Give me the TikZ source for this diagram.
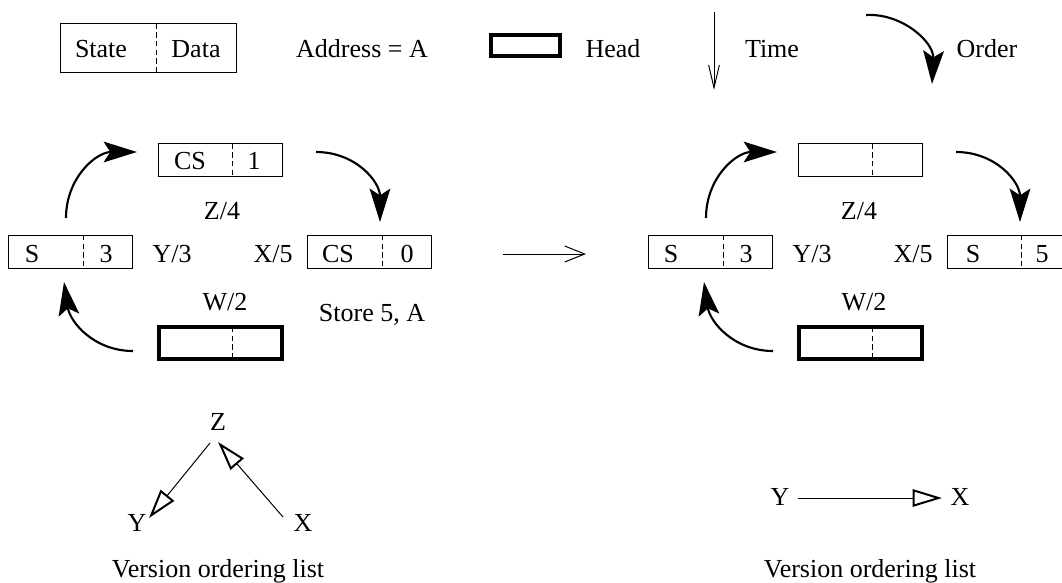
\documentclass[tikz,border=0pt]{standalone}
\usepackage{fontspec}
\setmainfont{Liberation Serif}
\usetikzlibrary{arrows.meta}
\begin{document}
\begin{tikzpicture}[x=0.75pt,y=-0.75pt,
  lbl/.style={inner sep=0pt, anchor=base, font=\fontsize{19.5}{23}\selectfont},
  cell/.style={draw, line width=0.75pt, inner sep=0pt, minimum width=93pt, minimum height=24.75pt},
  headcell/.style={draw, line width=3pt, inner sep=0pt, minimum width=92.25pt, minimum height=24pt},
  divider/.style={line width=0.75pt, dash pattern=on 4pt off 2.5pt},
  flow/.style={line width=1.6pt, -{Stealth[length=25pt,width=15.5pt,inset=5pt]}},
  vtri/.style={line width=0.75pt, -{Triangle[open,length=22pt,width=13pt,line width=1.5pt]}},
  barb/.style={line width=0.75pt, -{Straight Barb[length=15pt,width=12pt]}}
]
\clip (0,0) rectangle (1062,582);

% ---------- legend ----------
\node[cell, minimum width=132pt, minimum height=36.75pt] (legend) at (148.5,48) {};
\draw[divider] (156,23.5) -- (156,72.5);
\node[lbl] (lstate) at (101,57) {State};
\node[lbl] (ldata) at (196,57) {Data};
\node[lbl] (laddr) at (362,57) {Address = A};
\node[headcell, minimum width=51.75pt, minimum height=15.75pt] (lhead) at (525.5,45.5) {};
\node[lbl] (lheadt) at (613,57) {Head};
\coordinate (ts) at (714,12);
\coordinate (te) at (714,90);
\draw[line width=0.75pt, -{Straight Barb[length=17pt,width=8pt]}] (ts) -- (te);
\node[lbl] (ltime) at (772,57) {Time};
\coordinate (os) at (866,15);
\coordinate (oe) at (932,84);
\draw[flow] (os) .. controls (902,13) and (934,42) .. (oe);
\node[lbl] (lorder) at (987,57) {Order};

% ---------- left cycle ----------
\node[cell] (Lz) at (220,160) {};
\draw[divider] (232,143.5) -- (232,176.5);
\node[lbl] (Lzs) at (190,169) {CS};
\node[lbl] (Lzd) at (254,169) {1};

\node[cell] (Ly) at (70.5,251.5) {};
\draw[divider] (83,235) -- (83,268);
\node[lbl] (Lys) at (32,262) {S};
\node[lbl] (Lyd) at (106,262) {3};

\node[cell] (Lx) at (369,251.5) {};
\draw[divider] (382,235) -- (382,268);
\node[lbl] (Lxs) at (338,262) {CS};
\node[lbl] (Lxd) at (407,262) {0};

\node[headcell] (Lw) at (220.5,343) {};
\draw[divider] (232,327) -- (232,359);

\node[lbl] (Lz4) at (222,219) {Z/4};
\node[lbl] (Ly3) at (172,262) {Y/3};
\node[lbl] (Lx5) at (273,262) {X/5};
\node[lbl] (Lw2) at (225,310) {W/2};
\node[lbl] (Lst) at (372,321) {Store 5, A};

\coordinate (La1s) at (66,218);
\coordinate (La1e) at (137,152);
\draw[flow] (La1s) .. controls (66,178) and (96,152) .. (La1e);
\coordinate (La2s) at (316,152);
\coordinate (La2e) at (380,222);
\draw[flow] (La2s) .. controls (356,152) and (380,182) .. (La2e);
\coordinate (La3s) at (133,351);
\coordinate (La3e) at (64,282);
\draw[flow] (La3s) .. controls (94,351) and (70,322) .. (La3e);

% ---------- transition arrow ----------
\coordinate (ms) at (503,254);
\coordinate (me) at (586,254);
\draw[barb] (ms) -- (me);

% ---------- right cycle ----------
\node[cell] (Rz) at (860,160) {};
\draw[divider] (872,143.5) -- (872,176.5);

\node[cell] (Ry) at (710.5,251.5) {};
\draw[divider] (723,235) -- (723,268);
\node[lbl] (Rys) at (671,262) {S};
\node[lbl] (Ryd) at (746,262) {3};

\node[cell] (Rx) at (1009,251.5) {};
\draw[divider] (1021,235) -- (1021,268);
\node[lbl] (Rxs) at (973,262) {S};
\node[lbl] (Rxd) at (1042,262) {5};

\node[headcell] (Rw) at (860.5,343) {};
\draw[divider] (872,327) -- (872,359);

\node[lbl] (Rz4) at (859,219) {Z/4};
\node[lbl] (Ry3) at (812,262) {Y/3};
\node[lbl] (Rx5) at (913,262) {X/5};
\node[lbl] (Rw2) at (864,310) {W/2};

\coordinate (Ra1s) at (706,218);
\coordinate (Ra1e) at (777,152);
\draw[flow] (Ra1s) .. controls (706,178) and (736,152) .. (Ra1e);
\coordinate (Ra2s) at (956,152);
\coordinate (Ra2e) at (1020,222);
\draw[flow] (Ra2s) .. controls (996,152) and (1020,182) .. (Ra2e);
\coordinate (Ra3s) at (773,351);
\coordinate (Ra3e) at (704,282);
\draw[flow] (Ra3s) .. controls (734,351) and (710,322) .. (Ra3e);

% ---------- version ordering lists ----------
\node[lbl] (VZ) at (218,430) {Z};
\node[lbl] (VY) at (137,531) {Y};
\node[lbl] (VX) at (303,531) {X};
\coordinate (vzy1) at (210,443);
\coordinate (vzy2) at (149,518);
\coordinate (vxz1) at (283,517);
\coordinate (vxz2) at (218,442);
\draw[vtri] (vzy1) -- (vzy2);
\draw[vtri] (vxz1) -- (vxz2);
\node[lbl] (Vlist1) at (218,577) {Version ordering list};

\node[lbl] (WY) at (780,505) {Y};
\node[lbl] (WX) at (960,505) {X};
\coordinate (wyx1) at (798,498);
\coordinate (wyx2) at (942,498);
\draw[vtri] (wyx1) -- (wyx2);
\node[lbl] (Vlist2) at (870,577) {Version ordering list};
\end{tikzpicture}
\end{document}
